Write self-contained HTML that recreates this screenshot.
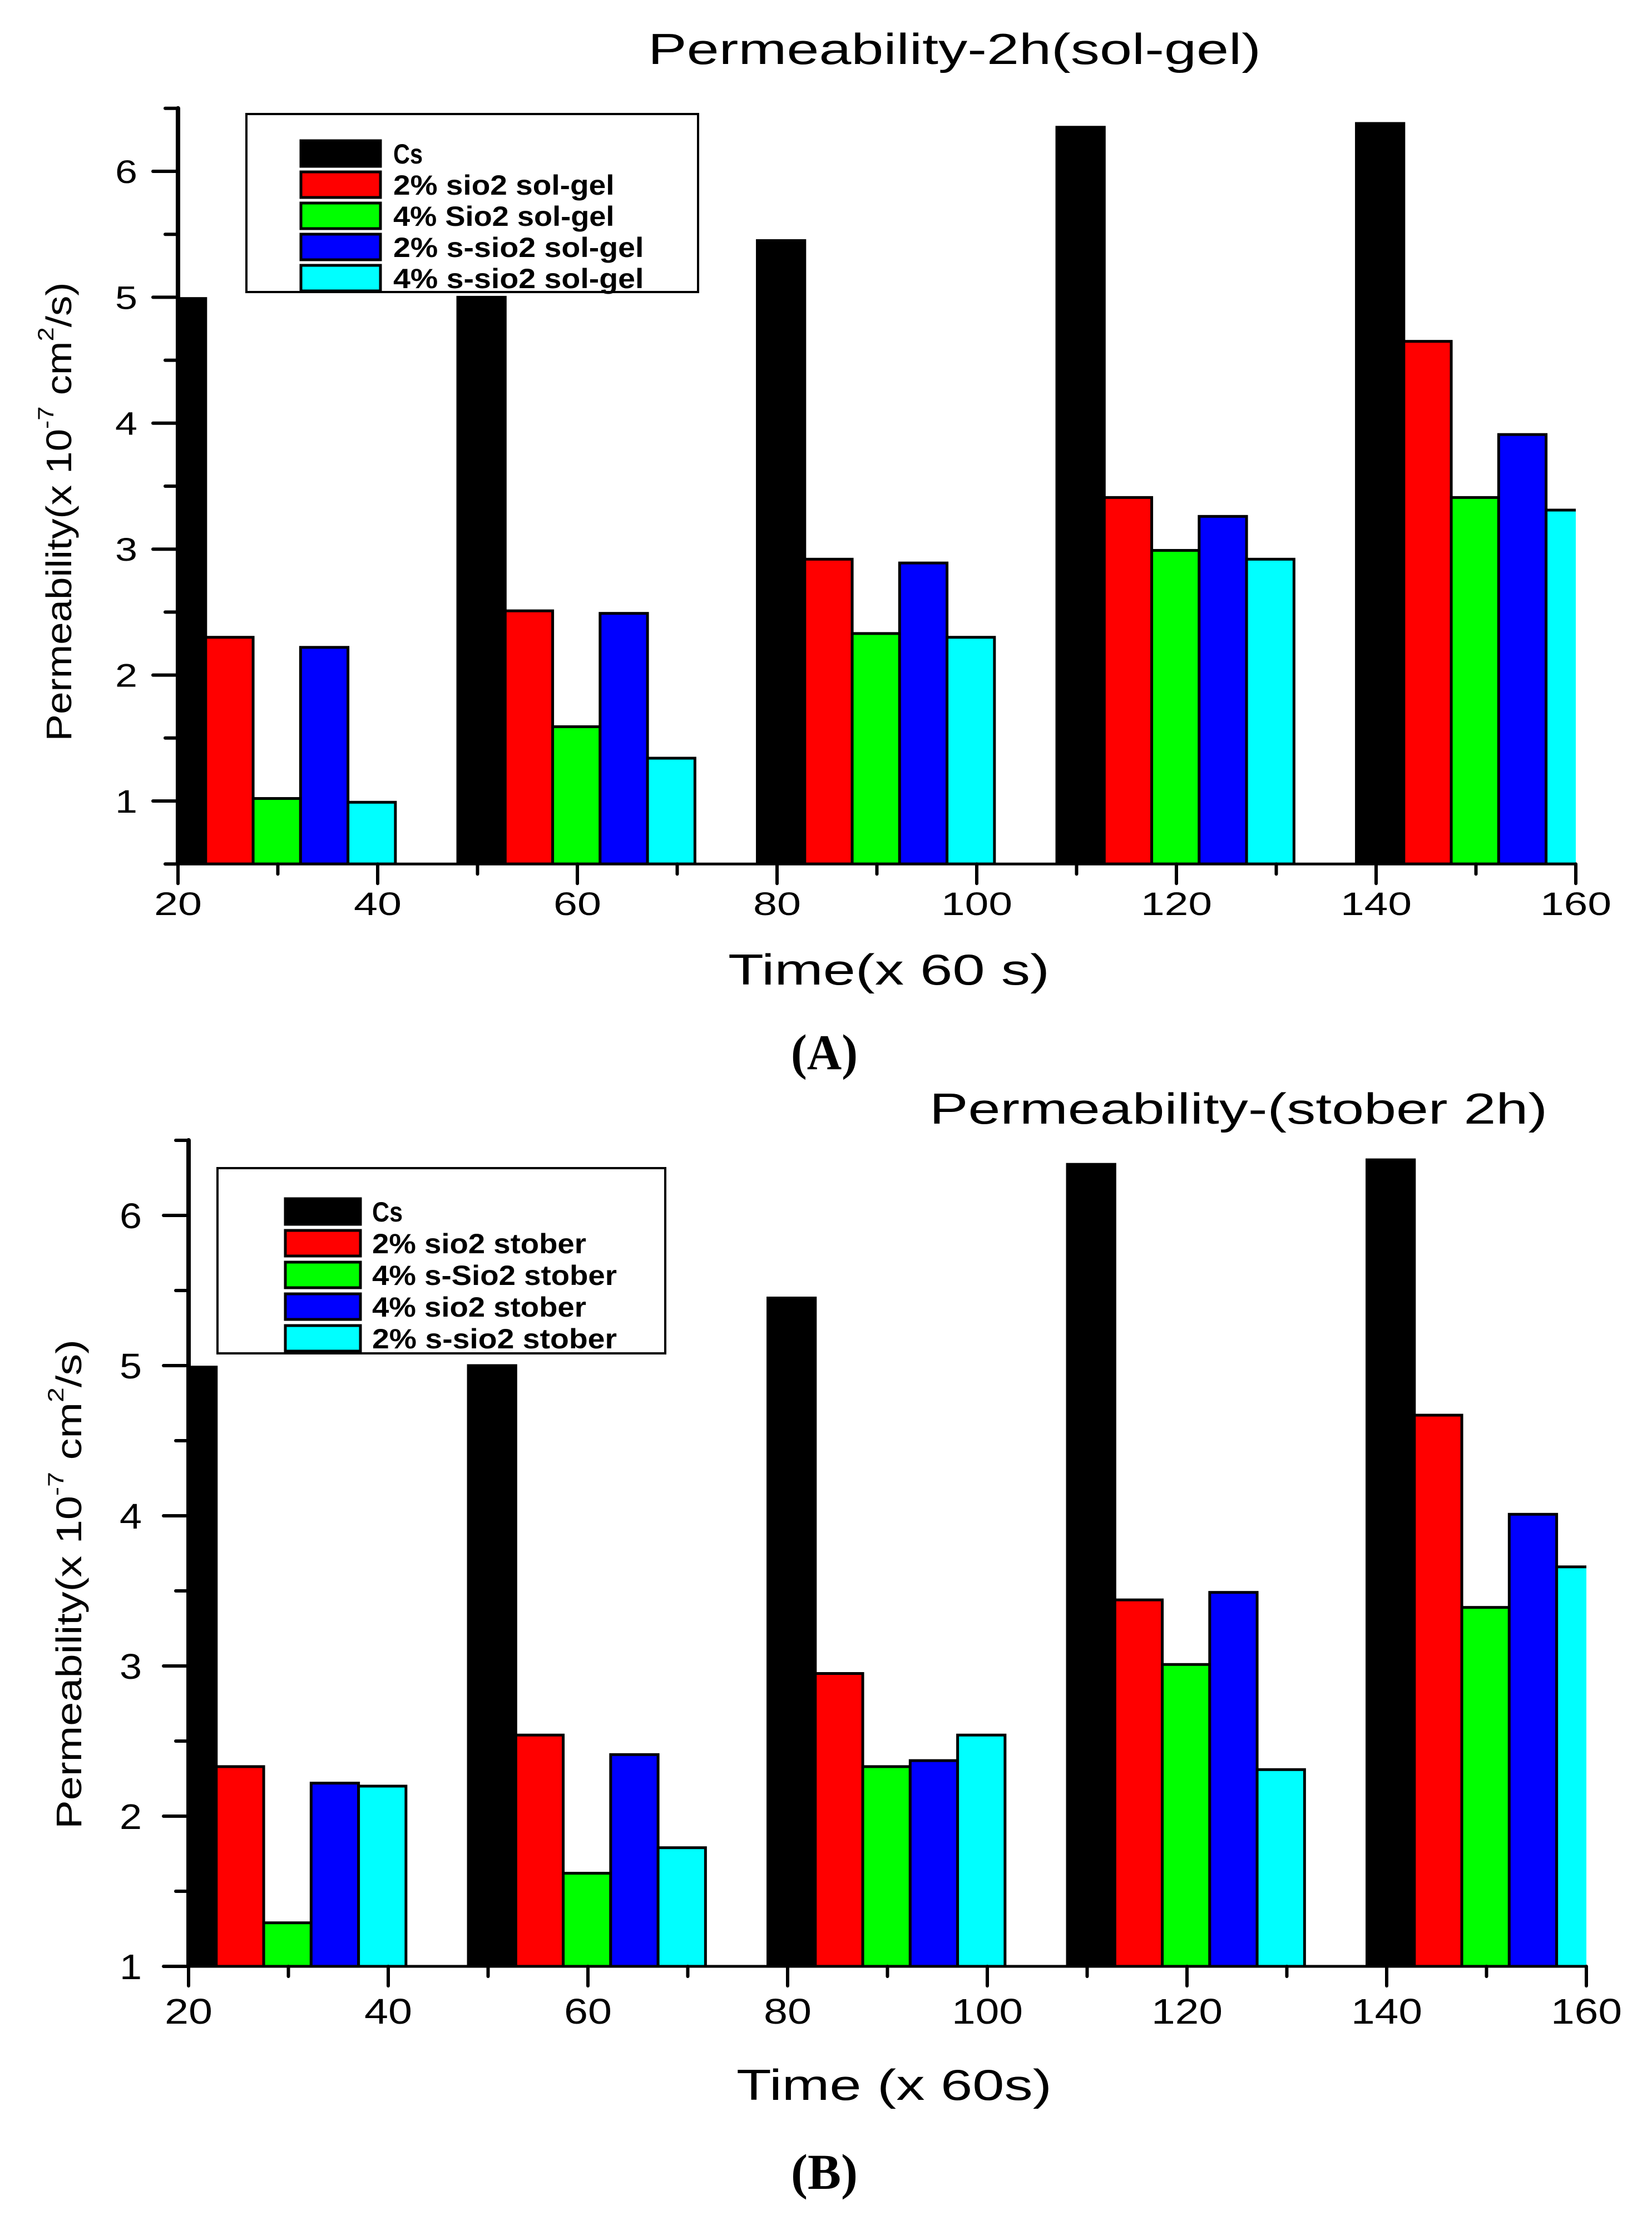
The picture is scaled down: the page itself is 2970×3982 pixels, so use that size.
<!DOCTYPE html>
<html><head><meta charset="utf-8"><style>html,body{margin:0;padding:0;background:#fff}svg{display:block}</style></head>
<body>
<svg id="fig" width="2970" height="3982" viewBox="0 0 2970 3982" xmlns="http://www.w3.org/2000/svg"></svg>
<script>
const categories = [20, 50, 80, 110, 140];
const seriesNamesA = ["Cs", "2% sio2 sol-gel", "4% Sio2 sol-gel", "2% s-sio2 sol-gel", "4% s-sio2 sol-gel"];
const csA = [4.99, 5.0, 5.45, 6.35, 6.38];
const redA = [2.30, 2.51, 2.92, 3.41, 4.65];
const greenA = [1.02, 1.59, 2.33, 2.99, 3.41];
const blueA = [2.22, 2.49, 2.89, 3.26, 3.91];
const cyanA = [0.99, 1.34, 2.30, 2.92, 3.31];
const seriesNamesB = ["Cs", "2% sio2 stober", "4% s-Sio2 stober", "4% sio2 stober", "2% s-sio2 stober"];
const csB = [4.99, 5.0, 5.45, 6.34, 6.37];
const redB = [2.33, 2.54, 2.95, 3.44, 4.67];
const greenB = [1.29, 1.62, 2.33, 3.01, 3.39];
const blueB = [2.22, 2.41, 2.37, 3.49, 4.01];
const cyanB = [2.20, 1.79, 2.54, 2.31, 3.66];
const xTicks = [20, 40, 60, 80, 100, 120, 140, 160];
const yTicksA = [1, 2, 3, 4, 5, 6];
const yTicksB = [1, 2, 3, 4, 5, 6];
const colors = ["#000000", "#ff0000", "#00ff00", "#0000ff", "#00ffff"];

const NS = "http://www.w3.org/2000/svg";
const svg = document.getElementById("fig");
function el(tag, attrs, parent) {
  const e = document.createElementNS(NS, tag);
  for (const k in attrs) e.setAttribute(k, attrs[k]);
  (parent || svg).appendChild(e);
  return e;
}
function txt(parent, x, y, s, size, anchor, len, weight, family) {
  const t = el("text", {x: x, y: y, "font-size": size, "text-anchor": anchor || "start"}, parent);
  t.setAttribute("style", "font-family:" + (family || '"Liberation Sans", sans-serif') + ";font-weight:" + (weight || "normal"));
  if (len) { t.setAttribute("textLength", len); t.setAttribute("lengthAdjust", "spacingAndGlyphs"); }
  t.textContent = s;
  return t;
}

function drawChart(cfg) {
  const g = el("g", {});
  
  
  const xs = v => cfg.x0 + (v - 20) / 140 * (cfg.x1 - cfg.x0);
  const ys = v => cfg.y1 - (v - 1) * cfg.unit;
  const base = ys(cfg.ymin), top = ys(cfg.ymax);
  const clipId = cfg.name + "-clip";
  const cp = el("clipPath", {id: clipId}, g);
  el("rect", {x: cfg.x0, y: top - 20, width: cfg.x1 - cfg.x0, height: base - top + 20}, cp);
  const bars = el("g", {"clip-path": "url(#" + clipId + ")"}, g);
  
  
  const step = 4.75;
  cfg.series.forEach((vals, s) => {
    vals.forEach((v, i) => {
      const c = categories[i] + 0.4 + s * step;
      const xl = xs(c - step / 2), xr = xs(c + step / 2);
      const r = el("rect", {x: xl, y: ys(v), width: xr - xl, height: base - ys(v),
        fill: colors[s], stroke: "#000", "stroke-width": 5}, bars);
      
      
    });
  });
  const ax = el("g", {stroke: "#000", "stroke-linecap": "round"}, g);
  
  
  el("line", {x1: cfg.x0, y1: top, x2: cfg.x0, y2: base, "stroke-width": 8}, ax);
  el("line", {x1: cfg.x0, y1: base, x2: cfg.x1, y2: base, "stroke-width": 5}, ax);
  for (let v = cfg.ymin; v <= cfg.ymax + 0.001; v += 0.5) {
    const major = Math.abs(v - Math.round(v)) < 0.01;
    el("line", {x1: cfg.x0 - (major ? 45 : 23), y1: ys(v), x2: cfg.x0, y2: ys(v), "stroke-width": 6}, ax);
  }
  for (let v = 20; v <= 160; v += 10) {
    const major = v % 20 === 0;
    el("line", {x1: xs(v), y1: base, x2: xs(v), y2: base + (major ? 35 : 18), "stroke-width": 6}, ax);
  }
  const yl = el("g", {}, g);
  
  
  cfg.yTicks.forEach(v => {
    txt(yl, cfg.ylabRight, ys(v) + cfg.tickSize * 0.36, String(v), cfg.tickSize, "end", 40);
  });
  const xl = el("g", {}, g);
  
  
  xTicks.forEach(v => {
    const s = String(v);
    txt(xl, xs(v), cfg.xlabBase, s, cfg.tickSize, "middle", s.length === 2 ? 86 : 128);
  });
  const t = txt(g, cfg.titleX, cfg.titleY, cfg.title, 78, "start", cfg.titleW);
  
  
  const xt = txt(g, cfg.xtX, cfg.xtY, cfg.xTitle, 78, "start", cfg.xtW);
  
  
  const ytg = el("g", {transform: "translate(" + cfg.ytX + "," + cfg.ytY + ") rotate(-90)"}, g);
  
  
  const yt = el("text", {x: 0, y: 0, "font-size": 64, "text-anchor": "middle", textLength: cfg.ytLen, lengthAdjust: "spacingAndGlyphs", style: 'font-family:"Liberation Sans", sans-serif'}, ytg);
  yt.innerHTML = 'Permeability(x 10<tspan dy="-32" font-size="40">-7</tspan><tspan dy="32"> cm</tspan><tspan dy="-32" font-size="40">2</tspan><tspan dy="32">/s)</tspan>';
  const pl = txt(g, cfg.panelX, cfg.panelY, cfg.panel, 90, "middle", 120, "bold", '"Liberation Serif", serif');
  
  
  const L = cfg.legend;
  const lg = el("g", {}, g);
  
  
  el("rect", {x: L.x, y: L.y, width: L.w, height: L.h, fill: "#fff", stroke: "#000", "stroke-width": 4}, lg);
  cfg.names.forEach((n, i) => {
    const cy = L.row0 + i * L.pitch;
    const e = el("g", {}, lg);
    
    
    el("rect", {x: L.sx, y: cy - 23, width: L.sw, height: 46, fill: colors[i], stroke: "#000", "stroke-width": 5}, e);
    txt(e, L.tx, cy + 18, n, 50, "start", n.length * L.cw, "bold");
  });
}

drawChart({name: "chart-a", tag: "a", x0: 320, x1: 2833, y1: 1440, unit: 226.4, ymin: 0.5, ymax: 6.5,
  series: [csA, redA, greenA, blueA, cyanA], names: seriesNamesA, yTicks: yTicksA,
  ylabRight: 247, xlabBase: 1645, tickSize: 58,
  title: "Permeability-2h(sol-gel)", titleX: 1165, titleY: 115, titleW: 1102,
  xTitle: "Time(x 60 s)", xtX: 1309, xtY: 1770, xtW: 578,
  ytX: 128, ytY: 920, ytLen: 825,
  panel: "(A)", panelX: 1482, panelY: 1922,
  legend: {x: 443, y: 205, w: 812, h: 320, row0: 276, pitch: 56, sx: 541, sw: 143, tx: 707, cw: 26.5}
});
drawChart({name: "chart-b", tag: "b", x0: 339, x1: 2852, y1: 3535, unit: 270, ymin: 1, ymax: 6.5,
  series: [csB, redB, greenB, blueB, cyanB], names: seriesNamesB, yTicks: yTicksB,
  ylabRight: 255, xlabBase: 3638, tickSize: 64,
  title: "Permeability-(stober 2h)", titleX: 1671, titleY: 2020, titleW: 1111,
  xTitle: "Time (x 60s)", xtX: 1324, xtY: 3775, xtW: 567,
  ytX: 146, ytY: 2848, ytLen: 880,
  panel: "(B)", panelX: 1482, panelY: 3935,
  legend: {x: 391, y: 2100, w: 805, h: 333, row0: 2178, pitch: 57, sx: 513, sw: 135, tx: 669, cw: 27.5}
});
</script>
</body></html>
